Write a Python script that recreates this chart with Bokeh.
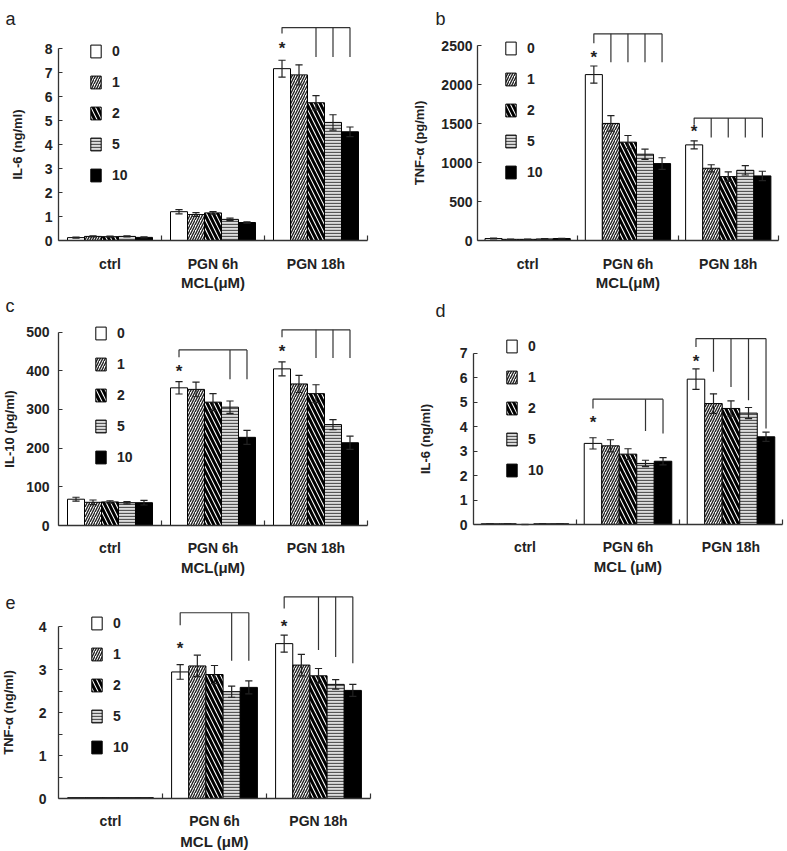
from bokeh.plotting import figure
from bokeh.models import FixedTicker, Legend, LegendItem
from bokeh.layouts import column, row
from bokeh.embed import file_html
from bokeh.resources import INLINE
from bokeh.core.properties import value

groups = ["ctrl", "PGN 6h", "PGN 18h"]
doses = ["0", "1", "2", "5", "10"]

# ---- panel a : IL-6 (ng/ml) ----
a_ctrl = [0.12, 0.17, 0.16, 0.17, 0.13]
a_ctrl_err = [0.02, 0.02, 0.02, 0.02, 0.02]
a_6h = [1.20, 1.08, 1.15, 0.88, 0.75]
a_6h_err = [0.09, 0.08, 0.05, 0.05, 0.03]
a_18h = [7.16, 6.90, 5.74, 4.92, 4.53]
a_18h_err = [0.35, 0.42, 0.30, 0.32, 0.20]
a_yticks = [0, 1, 2, 3, 4, 5, 6, 7, 8]
# significance: (group, bracket top, bar0 drop, asterisk y, [(bar, drop)])
a_sig = [(2, 8.87, 8.62, 8.2, [(2, 7.65), (3, 7.65), (4, 7.65)])]

# ---- panel b : TNF-a (pg/ml) ----
b_ctrl = [25, 15, 15, 20, 25]
b_ctrl_err = [5, 3, 3, 4, 4]
b_6h = [2127, 1501, 1261, 1106, 986]
b_6h_err = [110, 100, 85, 65, 75]
b_18h = [1226, 926, 819, 900, 828]
b_18h_err = [52, 45, 60, 60, 60]
b_yticks = [0, 500, 1000, 1500, 2000, 2500]
b_sig = [(1, 2650, 2530, 2414, [(1, 2285), (2, 2285), (3, 2285), (4, 2285)]),
         (2, 1569, 1484, 1458, [(1, 1320), (2, 1320), (3, 1320), (4, 1320)])]

# ---- panel c : IL-10 (pg/ml) ----
c_ctrl = [68, 60, 61, 59, 59]
c_ctrl_err = [5, 6, 3, 3, 6]
c_6h = [356, 352, 319, 306, 228]
c_6h_err = [16, 19, 22, 16, 18]
c_18h = [405, 366, 341, 261, 214]
c_18h_err = [18, 22, 23, 13, 17]
c_yticks = [0, 100, 200, 300, 400, 500]
c_sig = [(1, 454, 435, 411, [(3, 378), (4, 378)]),
         (2, 506, 487, 464, [(2, 433), (3, 433), (4, 433)])]

# ---- panel d : IL-6 (ng/ml) ----
d_ctrl = [0.03, 0.03, 0.0, 0.03, 0.03]
d_ctrl_err = [0, 0, 0, 0, 0]
d_6h = [3.32, 3.22, 2.88, 2.50, 2.59]
d_6h_err = [0.23, 0.25, 0.22, 0.13, 0.15]
d_18h = [5.95, 4.95, 4.75, 4.56, 3.59]
d_18h_err = [0.42, 0.40, 0.31, 0.23, 0.19]
d_yticks = [0, 1, 2, 3, 4, 5, 6, 7]
d_sig = [(1, 5.13, 4.75, 4.4, [(3, 3.83), (4, 3.72)]),
         (2, 7.61, 7.27, 6.89, [(1, 6.25), (2, 5.63), (3, 5.09), (4, 3.93)])]

# ---- panel e : TNF-a (ng/ml) ----
e_ctrl = [0.02, 0.02, 0.02, 0.02, 0.02]
e_ctrl_err = [0, 0, 0, 0, 0]
e_6h = [2.95, 3.09, 2.89, 2.49, 2.59]
e_6h_err = [0.17, 0.25, 0.21, 0.13, 0.15]
e_18h = [3.61, 3.11, 2.86, 2.66, 2.52]
e_18h_err = [0.20, 0.25, 0.17, 0.11, 0.14]
e_yticks = [0, 1, 2, 3, 4]
e_yminor = [0.5, 1.5, 2.5, 3.5]
e_sig = [(1, 4.33, 4.04, 3.61, [(3, 3.21), (4, 3.21)]),
         (2, 4.70, 4.43, 4.13, [(2, 3.46), (3, 3.30), (4, 3.15)])]

FONT = "Liberation Sans"
INK = "#222222"

STYLES = [
    dict(fill_color="white"),
    dict(fill_color="white", hatch_pattern="/", hatch_scale=5, hatch_weight=1.4, hatch_color="#222222"),
    dict(fill_color="white", hatch_pattern="\\", hatch_scale=9, hatch_weight=3.0, hatch_color="black"),
    dict(fill_color="#dddddd", hatch_pattern="-", hatch_scale=3, hatch_weight=1.3, hatch_color="#555555"),
    dict(fill_color="black"),
]


def make_panel(width, height, ox, oy, ppx, ppy, yticks, yminor, vals, errs, ylabel, xlabel,
               letter, letter_px, legend_xy, sig, ylab_standoff, ytick_standoff, xtick_standoff,
               bar_w, xlab_px):
    # ox, oy: pixel position of the axes origin inside the figure; ppx/ppy: pixels per unit
    x_range = (-ox / ppx, (width - ox) / ppx)
    y_range = (-(height - oy) / ppy, oy / ppy)
    p = figure(width=width, height=height, output_backend="svg", toolbar_location=None,
               x_range=x_range, y_range=y_range,
               min_border_left=0, min_border_right=0, min_border_top=0, min_border_bottom=0)
    p.outline_line_color = None
    p.xgrid.visible = False
    p.ygrid.visible = False
    p.background_fill_color = "white"
    cap = 3.6 / ppx

    renderers = []
    for i in range(5):
        xs = [g + 0.5 + (i - 2) * bar_w for g in range(3)]
        tops = [vals[g][i] for g in range(3)]
        r = p.vbar(x=xs, top=tops, bottom=0, width=bar_w, line_color="black", line_width=1,
                   **STYLES[i])
        renderers.append(r)
        lo = [vals[g][i] - errs[g][i] for g in range(3)]
        hi = [vals[g][i] + errs[g][i] for g in range(3)]
        p.segment(x0=xs, y0=lo, x1=xs, y1=hi, line_color=INK, line_width=1.2)
        p.segment(x0=[x - cap for x in xs], y0=hi, x1=[x + cap for x in xs], y1=hi,
                  line_color=INK, line_width=1.2)
        p.segment(x0=[x - cap for x in xs], y0=lo, x1=[x + cap for x in xs], y1=lo,
                  line_color=INK, line_width=1.2)

    # significance brackets
    mx, my, sx, sy = [], [], [], []
    for g, top, drop0, ast, drops in sig:
        x0 = g + 0.5 - 2 * bar_w
        xl = g + 0.5 + (max(b for b, _ in drops) - 2) * bar_w
        mx.append([x0, x0, xl])
        my.append([drop0, top, top])
        for b, d in drops:
            xb = g + 0.5 + (b - 2) * bar_w
            mx.append([xb, xb])
            my.append([top, d])
        sx.append(x0)
        sy.append(ast)
    p.multi_line(xs=mx, ys=my, line_color="#333333", line_width=1.2)
    p.text(x=sx, y=sy, text=["*"] * len(sx), text_align="center", text_baseline="middle",
           text_font=value(FONT), text_font_style="bold", text_font_size="17px",
           text_color=INK, y_offset=5)

    # axes, pinned at the origin inside the plotting area
    p.yaxis.fixed_location = 0
    p.xaxis.fixed_location = 0
    p.yaxis.ticker = FixedTicker(ticks=yticks, minor_ticks=yminor)
    p.yaxis.bounds = (0, yticks[-1])
    p.yaxis.major_tick_in = 4
    p.yaxis.major_tick_out = 0
    p.yaxis.minor_tick_in = 4
    p.yaxis.minor_tick_out = 0
    p.yaxis.axis_label = ylabel
    p.yaxis.axis_label_standoff = ylab_standoff
    p.yaxis.major_label_standoff = ytick_standoff

    p.xaxis.ticker = FixedTicker(ticks=[0.5, 1.5, 2.5], minor_ticks=[1, 2, 3])
    p.xaxis.major_label_overrides = {0.5: groups[0], 1.5: groups[1], 2.5: groups[2]}
    p.xaxis.bounds = (0, 3)
    p.xaxis.major_tick_in = 0
    p.xaxis.major_tick_out = 0
    p.xaxis.minor_tick_in = 5
    p.xaxis.minor_tick_out = 0
    p.xaxis.major_label_standoff = xtick_standoff

    for ax in (p.xaxis[0], p.yaxis[0]):
        ax.axis_line_color = "#333333"
        ax.axis_line_width = 1.3
        ax.major_tick_line_color = "#333333"
        ax.minor_tick_line_color = "#333333"
        ax.major_tick_line_width = 1.2
        ax.minor_tick_line_width = 1.2
        ax.major_label_text_font = FONT
        ax.major_label_text_font_style = "bold"
        ax.major_label_text_font_size = "14px"
        ax.major_label_text_color = INK
        ax.axis_label_text_font = FONT
        ax.axis_label_text_font_style = "bold"
        ax.axis_label_text_color = INK
    p.yaxis.axis_label_text_font_size = "13px"

    # x-axis title, centred under the middle category
    p.text(x=[1.5], y=[-xlab_px / ppy], text=[xlabel], text_font=value(FONT),
           text_font_style="bold", text_font_size="15px", text_align="center",
           text_baseline="middle", text_color=INK)

    # panel letter
    p.text(x=[letter_px[0] / ppx], y=[letter_px[1] / ppy], text=[letter], text_font=value(FONT),
           text_font_size="18px", text_align="left", text_baseline="alphabetic", text_color=INK)

    legend = Legend(items=[LegendItem(label=d, renderers=[r]) for d, r in zip(doses, renderers)],
                    location=legend_xy, orientation="vertical", glyph_width=13, glyph_height=16,
                    label_height=16, spacing=15, padding=0, margin=0, border_line_color=None,
                    background_fill_alpha=0, label_standoff=10,
                    label_text_font=FONT, label_text_font_style="bold",
                    label_text_font_size="14px", label_text_color=INK)
    p.add_layout(legend)
    return p


pa = make_panel(390, 292, 58, 240, 103, 24.0, a_yticks, [],
                [a_ctrl, a_6h, a_18h], [a_ctrl_err, a_6h_err, a_18h_err],
                "IL-6 (ng/ml)", "MCL(\u03bcM)", "a", (-53, 222), (89, 109), a_sig,
                17, 6, 15, 0.165, 42)
pb = make_panel(397, 292, 87, 240, 100.3, 0.078, b_yticks, [],
                [b_ctrl, b_6h, b_18h], [b_ctrl_err, b_6h_err, b_18h_err],
                "TNF-\u03b1 (pg/ml)", "MCL(\u03bcM)", "b", (-42, 222), (114, 112), b_sig,
                11, 5, 15, 0.17, 42)
pc = make_panel(390, 286, 58, 233, 103, 0.3867, c_yticks, [],
                [c_ctrl, c_6h, c_18h], [c_ctrl_err, c_6h_err, c_18h_err],
                "IL-10 (pg/ml)", "MCL(\u03bcM)", "c", (-53, 220), (94, 113), c_sig,
                6, 9, 14, 0.165, 42)
pd = make_panel(397, 286, 83, 232, 103, 24.43, d_yticks, [],
                [d_ctrl, d_6h, d_18h], [d_ctrl_err, d_6h_err, d_18h_err],
                "IL-6 (ng/ml)", "MCL (\u03bcM)", "d", (-38, 214), (115, 100), d_sig,
                24, 6, 14, 0.17, 42)
pe = make_panel(390, 273, 58, 220, 104, 42.9, e_yticks, e_yminor,
                [e_ctrl, e_6h, e_18h], [e_ctrl_err, e_6h_err, e_18h_err],
                "TNF-\u03b1 (ng/ml)", "MCL (\u03bcM)", "e", (-53, 196), (90, 96), e_sig,
                20, 12, 14, 0.165, 43)

layout = column(row(pa, pb), row(pc, pd), row(pe))
open("out.html", "w").write(file_html(layout, INLINE))
